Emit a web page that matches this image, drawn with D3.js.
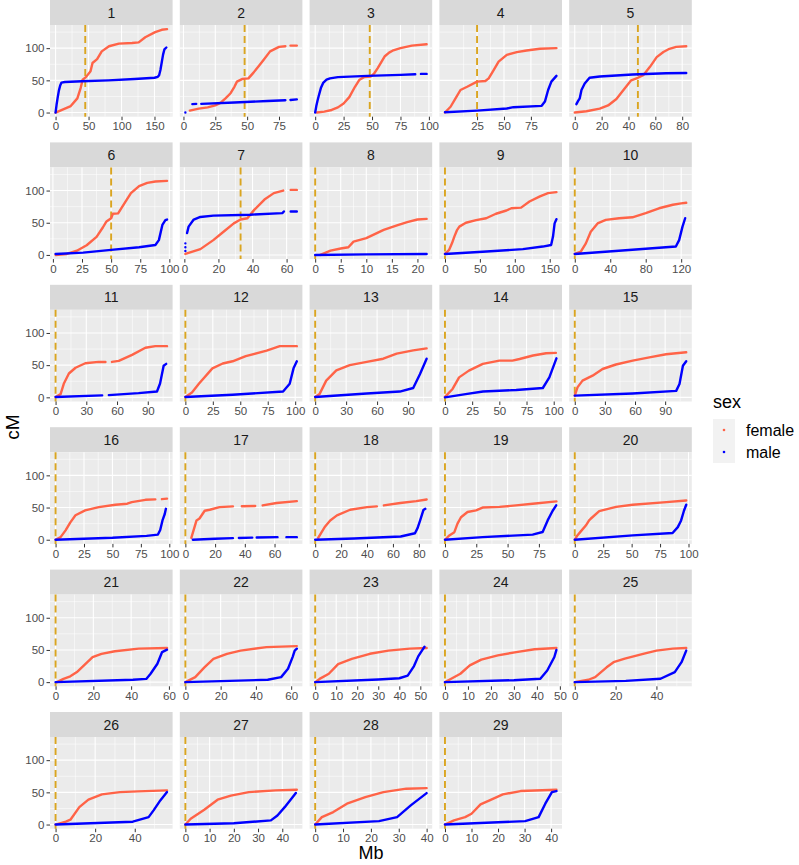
<!DOCTYPE html>
<html>
<head>
<meta charset="utf-8">
<script src="https://cdn.jsdelivr.net/npm/d3@7"></script>
<style>
  body { margin: 0; background: #fff; }
  svg { font-family: "Liberation Sans", Arial, Helvetica, sans-serif; }
</style>
</head>
<body>
<svg id="chart" width="799" height="865"></svg>
<script>
// chromosome labels (facets)
const chromosomes = d3.range(1, 30).map(String);

// centromere position (Mb) per chromosome
const centromere = [45, 48, 48, 25, 47, 50, 33, 0, 0, 0, 0, 0, 0, 0, 0, 0, 0, 0, 0, 0, 0, 0, 0, 0, 0, 0, 0, 0, 0];

// x tick values per chromosome (Mb)
const xTicks = [
  [0, 50, 100, 150], [0, 25, 50, 75], [0, 25, 50, 75, 100], [25, 50, 75], [0, 20, 40, 60, 80],
  [0, 25, 50, 75, 100], [0, 20, 40, 60], [0, 5, 10, 15, 20], [0, 50, 100, 150], [0, 40, 80, 120],
  [0, 30, 60, 90], [0, 25, 50, 75, 100], [0, 30, 60, 90], [0, 25, 50, 75, 100], [0, 30, 60, 90],
  [0, 25, 50, 75, 100], [0, 20, 40, 60], [0, 20, 40, 60, 80], [0, 25, 50, 75], [0, 25, 50, 75, 100],
  [0, 20, 40, 60], [0, 20, 40, 60], [0, 10, 20, 30, 40, 50], [0, 10, 20, 30, 40, 50], [0, 20, 40],
  [0, 20, 40], [0, 10, 20, 30, 40], [0, 10, 20, 30, 40], [0, 10, 20, 30, 40]
];
const yTicks = [0, 50, 100];

// female map: [Mb, cM], null = gap in markers
const female = [
  [[0,0],[23,10],[33,22],[38,38],[41,51],[46,55],[53,64],[56,77],[63,83],[70,95],[81,103],[96,107],[116,108],[126,109],[136,117],[151,125],[161,128.5],[169,129.5]],
  [[5,3],[12,6],[19,8],[25,11],[29,15],[33,22],[37,30],[40,40],[42,48],[46,52],[51,53],[55,62],[59,72],[63,82],[68,95],[75,102],[80,103],null,[84,104],[89,104]],
  [[1.5,0],[8,1.5],[14.5,4],[20,8],[25,14],[30,24],[35,40],[39,51],[43,55],[49,56],[52,61],[55,69],[58,78],[61,87],[65,93],[68,96],[75,100],[85,104],[98,106]],
  [[-4.8,0],[0.4,9],[5,22],[9.6,35],[15.8,40],[25,48],[32.7,49],[35.8,53],[40.4,66],[45,79],[52.6,89.6],[61.9,93.8],[71,96.4],[83.4,99],[98.7,100]],
  [[0,0],[8.7,2],[18.6,6],[24.8,11],[31,21],[37,37],[42,50],[47,54],[51,58],[56,71],[61,86],[66,94],[70.5,99],[75.5,102],[83,103]],
  [[2.3,0],[12,1.5],[20.6,6.6],[29,15],[37.5,28],[43,43],[46,52],[50,57],[51.5,64],[56,64.5],[61.4,80],[67,96],[74,107],[81,112],[88,114],[98,115]],
  [[0.6,1.5],[9.4,9],[17,23],[23,36],[29,49],[33,55],[37,57],[41,70],[47,86],[52.5,96],[58,100],null,[62.4,101],[66,101]],
  [[1,0],[3,6.6],[5,10],[6.5,12],[7.5,20.6],[10,26],[13.4,39],[16,46],[18,51],[20,55],[21.8,56]],
  [[0,1.5],[6,8],[10,18],[13.4,28.5],[17,38],[20.6,44],[30,50],[44.6,54],[59,57],[73,64],[88,69],[95,72.5],[109,73.5],[121,83],[136,91],[147.6,96],[159.6,97.5]],
  [[0,1.5],[6.8,5],[12.5,18],[18,36],[25.7,49],[35,54.4],[50,57],[65,58.5],[80,65],[95,72.5],[110.6,78],[120,80],[125.7,81]],
  [[0,0.6],[4.9,5],[8,21],[13,37],[19.5,46],[29,53],[42,55],[48.7,55],null,[55,55],[61.7,56.7],[74.7,66],[87.7,77],[97.4,79.5],[108.8,79.5]],
  [[0,0.6],[6,7.6],[12.3,21],[24.6,45],[34,52.5],[43,56],[55,64],[74,72.5],[86,79.5],[101.5,79.5]],
  [[0,0.6],[4.2,5],[10.7,26],[20.5,42],[33.5,50],[50,55],[66,60],[79,68],[95,73],[108,76]],
  [[0,0.6],[7,13],[13,31],[22,41.5],[34.8,52],[50,57],[62,57],[68.6,59.6],[81,65],[93,68.4],[102,69]],
  [[0,2.6],[2.7,15.5],[7.7,26],[17.7,33.7],[27.7,44],[41,51],[57.7,57],[74.3,62],[91,67],[111,70]],
  [[0,0],[4.4,4],[8.8,14.5],[13,27],[17.5,38],[26,45.6],[38,50.7],[52.6,54.4],[63,56],[67,58.5],[79,62],[87.7,62.7],null,[93.5,63],[98,63.8]],
  [[4,3],[7.5,30],[9.5,33],[13,45],[16.4,46.6],[23,50.7],[32,51.8],null,[38,52],[47,52.5],null,[52,53.3],[61.4,57],[75,60]],
  [[2.3,3],[5,12],[7.7,20.7],[11.6,30],[16.8,37.8],[27,46.6],[40,50.7],[47.6,51.8],null,[53,53.3],[65.7,57],[78,60],[86,62.5]],
  [[0,0],[3.5,6.7],[7.5,11.8],[10,25],[12.8,35],[18,43],[24.8,45.6],[30,50],[43.5,51],[56.8,53.4],[70,56],[89,59.6]],
  [[0,0],[2.3,6.7],[5.3,13],[9.7,22],[12.6,30],[14,32.6],[21.5,44.5],[36.3,51],[51,54.4],[80.5,58.5],[98,61]],
  [[0.7,0],[4.2,5],[7.8,9],[11.3,15.6],[16,28.6],[19.6,39],[24.3,44],[31.4,48],[44,52],[59,53]],
  [[0,0],[5.6,7.8],[10.8,23],[15.9,36],[23.6,44],[31.3,49],[46,54.4],[63.2,56]],
  [[0,0],[2.1,5],[6.5,13],[10.9,28],[17.4,36],[26,44],[34.8,49],[45,52],[53,53]],
  [[0,0],[2.7,5.3],[6.7,13],[10.8,26],[15.8,35],[23,41.5],[31,46.7],[39,51],[48.5,53]],
  [[0,0],[6.7,3.7],[10,7.8],[15.6,23],[19,31],[24.5,36.4],[33.5,44],[40,49],[48,52],[54.6,53]],
  [[0,0],[5.2,4.4],[7.5,7.5],[12,27],[16.6,38.6],[23.4,46.8],[32.5,50.4],[41.6,51.5],[56.3,53]],
  [[0,0],[2.2,9],[7.8,23],[13.3,38.6],[18.8,45],[26.2,50.4],[37.3,53],[46,54]],
  [[0,0],[2.4,11.5],[6.5,19.4],[11.4,32.4],[18,42.6],[24.5,50.4],[32.7,55.7],[40,56.6]],
  [[0,0],[3.4,6.4],[7.6,11.5],[10,16.8],[13.4,31.3],[16.8,37.5],[21.8,46.8],[28.5,52],[42,54]]
];

// male map: [Mb, cM]
const male = [
  [[0,0],[1.5,12],[3,22],[5,34],[7,42],[9,46.5],[14,47.5],[40,48.5],[80,50],[120,52],[150,54],[155,55.5],[157,58],[159,66],[161,78],[163,90],[165,98],[168,101]],
  [[1.5,0],null,[7,13],[10,13.5],null,[14,13.5],[40,15.5],[66,18],[80,19],null,[84,19.5],[89,20.5]],
  [[0,0],[1,10],[2,18],[3,25],[5,38],[7,46],[10,51],[13,53],[20,55],[46,57],[75,58.5],[88,59.5],null,[93,60],[98,60]],
  [[-4.8,0.5],[25,3],[52.6,6.2],[58.8,8.3],[85,10.4],[88,17],[91,35],[94,48],[98.7,57]],
  [[1.2,13],[2.5,18],[3.7,22],[5,35],[7.4,45],[11,54],[18.6,56],[43,59],[68,61],[83,61.5]],
  [[2.3,1.5],[26,3.6],[50,7.8],[74,12],[88,15.5],[91,23],[94,46.6],[96.6,54],[98,55]],
  [[0.6,6],null,[0.6,12],null,[0.6,18],null,[1.6,34],[2.5,44],[5.5,55],[9.4,59],[17,61],[38.6,62.5],[57.5,65],[58.4,67.5],null,[62.4,67.5],[66,67.5]],
  [[0,0],[10,0.8],[21.8,1.5]],
  [[0,1.5],[54,5],[111.6,9],[140,13],[152,15.5],[154.7,28.5],[157,49],[159.6,55.5]],
  [[0,1.5],[65,8],[114,13],[117.7,23],[121.5,44],[124.5,57]],
  [[0,0.6],[45.5,3],null,[52,3.5],[81,6.5],[99,9],[102,21.5],[105.5,49],[108,52]],
  [[0,0.6],[43,4],[89,9],[95,21],[98.5,45],[101.5,56]],
  [[0,0.6],[50,6],[82,9],[95,14.5],[101.5,36],[108,60]],
  [[0,0],[19,5],[35,9],[65.5,11.4],[90,14.5],[96,31],[102.5,60.6]],
  [[0,2.6],[57.7,6],[101,10],[104.3,20.7],[107.7,49],[111,56]],
  [[0,0],[50,3],[80,6],[90,8],[92,15],[94,30],[96,40],[97,48]],
  [[5,0],[20,1.5],[32,2.5],null,[36,2.7],[45,3.3],null,[48,3.5],[62,4],null,[68,4],[75,4]],
  [[0,0],[30,2],[66,5],[77,10],[79,18],[81,30],[83.5,46],[85,48]],
  [[0,0],[30,4],[70,8],[78,12],[82,30],[86,45],[88.8,53.4]],
  [[0,0],[51,6.7],[86,10.4],[90.6,19.6],[93.5,30],[96,45],[98,54.4]],
  [[0,0],[41,3.7],[48,5],[50.3,13],[53.9,28.6],[56.4,46.7],[59,50.4]],
  [[0,0],[46.7,3.7],[54.3,7.8],[58.2,20.7],[60.8,38.9],[62,49],[63.2,52]],
  [[0,0],[30,4],[40,6],[44,10],[47,25],[49,40],[51,50],[52,55]],
  [[0,0],[30,3],[41.5,5.3],[44.5,18],[47.6,39],[48.5,50]],
  [[0,0],[25,2],[42,5.3],[49,15.6],[52.3,31],[54.6,49]],
  [[0,0],[39,4.4],[47,11.5],[49.5,22],[52.9,37.5],[56.3,50.4]],
  [[0,0],[20,2],[35.3,6.4],[38,14],[41,27],[45.6,49]],
  [[0,0],[22.9,5.3],[29.4,11.5],[34.3,29.7],[40,48.8]],
  [[0,0],[30.2,5.3],[35.3,11.5],[37.8,32.4],[40.3,50.4],[42,52]]
];

const sexes = ["female", "male"];
const sexColor = d3.scaleOrdinal().domain(sexes).range(["#FF6347", "#0000FF"]);

const svg = d3.select("#chart");

// facet layout
const ncol = 5,
  left0 = 50,
  colStep = 129.8,
  panelW = 122.6,
  rowStep = 142.4,
  stripH = 25,
  plotH = 91.7;

// shared y scale, ggplot style 5% expansion
const allY = female.concat(male).flat().filter(d => d).map(d => d[1]);
const yExt = d3.extent(allY);
const yPad = (yExt[1] - yExt[0]) * 0.05;
const y = d3.scaleLinear().domain([yExt[0] - yPad, yExt[1] + yPad]).range([plotH, 0]);

function minorBreaks(br, dom) {
  let b = br.slice();
  const bd = b[1] - b[0];
  if (dom[0] < b[0]) b.unshift(b[0] - bd);
  if (dom[1] > b[b.length - 1]) b.push(b[b.length - 1] + bd);
  const m = [];
  for (let k = 0; k < b.length - 1; k++) m.push((b[k] + b[k + 1]) / 2);
  return m.filter(v => v >= dom[0] && v <= dom[1]);
}

chromosomes.forEach((chr, i) => {
  const col = i % ncol, row = Math.floor(i / ncol);
  const g = svg.append("g")
    .attr("transform", "translate(" + (left0 + col * colStep) + "," + (row * rowStep) + ")");

  // strip
  g.append("rect")
    .attr("width", panelW).attr("height", stripH)
    .attr("fill", "#D9D9D9");
  g.append("text")
    .attr("x", panelW / 2).attr("y", stripH / 2 + 5)
    .attr("text-anchor", "middle")
    .attr("font-size", 14).attr("fill", "#1A1A1A")
    .text(chr);

  const p = g.append("g").attr("transform", "translate(0," + stripH + ")");
  p.append("rect").attr("width", panelW).attr("height", plotH).attr("fill", "#EBEBEB");

  // free x scale per chromosome
  const xs = female[i].concat(male[i]).filter(d => d).map(d => d[0]).concat([centromere[i]]);
  const xExt = d3.extent(xs);
  const xPad = (xExt[1] - xExt[0]) * 0.05;
  const x = d3.scaleLinear().domain([xExt[0] - xPad, xExt[1] + xPad]).range([0, panelW]);

  // grid
  p.selectAll(".ymin").data(minorBreaks(yTicks, y.domain())).enter().append("line")
    .attr("x1", 0).attr("x2", panelW).attr("y1", d => y(d)).attr("y2", d => y(d))
    .attr("stroke", "#fff").attr("stroke-width", 0.55);
  p.selectAll(".xmin").data(minorBreaks(xTicks[i], x.domain())).enter().append("line")
    .attr("y1", 0).attr("y2", plotH).attr("x1", d => x(d)).attr("x2", d => x(d))
    .attr("stroke", "#fff").attr("stroke-width", 0.55);
  p.selectAll(".ymaj").data(yTicks).enter().append("line")
    .attr("x1", 0).attr("x2", panelW).attr("y1", d => y(d)).attr("y2", d => y(d))
    .attr("stroke", "#fff").attr("stroke-width", 1.1);
  p.selectAll(".xmaj").data(xTicks[i]).enter().append("line")
    .attr("y1", 0).attr("y2", plotH).attr("x1", d => x(d)).attr("x2", d => x(d))
    .attr("stroke", "#fff").attr("stroke-width", 1.1);

  // centromere
  p.append("line")
    .attr("x1", x(centromere[i])).attr("x2", x(centromere[i]))
    .attr("y1", 0).attr("y2", plotH)
    .attr("stroke", "#DAA520").attr("stroke-width", 1.9)
    .attr("stroke-dasharray", "7,4");

  // marker series
  const line = d3.line()
    .defined(d => d)
    .x(d => x(d[0]))
    .y(d => y(d[1]));
  [["female", female[i]], ["male", male[i]]].forEach(s => {
    p.append("path")
      .datum(s[1])
      .attr("d", line)
      .attr("fill", "none")
      .attr("stroke", sexColor(s[0]))
      .attr("stroke-width", 2.4)
      .attr("stroke-linecap", "round")
      .attr("stroke-linejoin", "round");
  });

  // x axis
  const xa = p.append("g")
    .attr("transform", "translate(0," + plotH + ")")
    .call(d3.axisBottom(x).tickValues(xTicks[i]).tickSize(3.5).tickPadding(2));
  xa.select(".domain").remove();
  xa.selectAll("line").attr("stroke", "#333");
  xa.selectAll("text").attr("fill", "#4D4D4D").attr("font-size", 11.5)
    .attr("font-family", "Liberation Sans, Arial, sans-serif");

  // y axis only first column
  if (col === 0) {
    const ya = p.append("g").call(d3.axisLeft(y).tickValues(yTicks).tickSize(3.5).tickPadding(2));
    ya.select(".domain").remove();
    ya.selectAll("line").attr("stroke", "#333");
    ya.selectAll("text").attr("fill", "#4D4D4D").attr("font-size", 11.5)
      .attr("font-family", "Liberation Sans, Arial, sans-serif");
  }
});

// axis titles
svg.append("text")
  .attr("x", left0 + ((ncol - 1) * colStep + panelW) / 2).attr("y", 859)
  .attr("text-anchor", "middle").attr("font-size", 18).attr("fill", "#000")
  .text("Mb");
svg.append("text")
  .attr("transform", "translate(19,427) rotate(-90)")
  .attr("text-anchor", "middle").attr("font-size", 19).attr("fill", "#000")
  .text("cM");

// legend
const lg = svg.append("g").attr("transform", "translate(713,395)");
lg.append("text").attr("x", 0).attr("y", 13).attr("font-size", 18).attr("fill", "#000").text("sex");
sexes.forEach((s, k) => {
  lg.append("rect").attr("x", 0).attr("y", 24 + k * 22).attr("width", 22).attr("height", 22).attr("fill", "#F2F2F2");
  lg.append("circle").attr("cx", 11).attr("cy", 35 + k * 22).attr("r", 1.3).attr("fill", sexColor(s));
  lg.append("text").attr("x", 33).attr("y", 41 + k * 22).attr("font-size", 16).attr("fill", "#000").text(s);
});
</script>
</body>
</html>
